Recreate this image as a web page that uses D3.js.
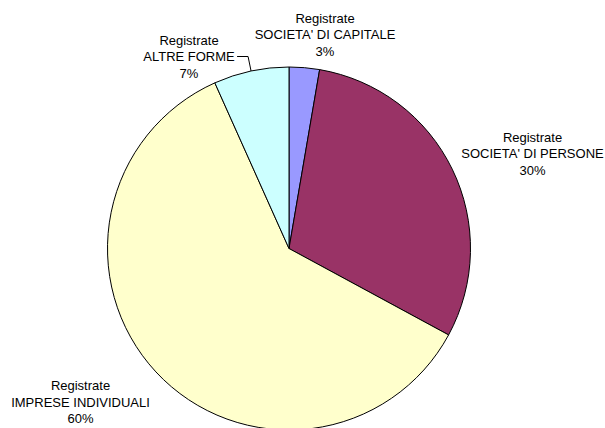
<!DOCTYPE html>
<html>
<head>
<meta charset="utf-8">
<script src="https://cdn.jsdelivr.net/npm/d3@7"></script>
<style>
  html, body { margin: 0; padding: 0; background: #fff; }
  svg { display: block; }
  text { font-family: "Liberation Sans", Arial, sans-serif; font-size: 13px; fill: #000; }
</style>
</head>
<body>
<svg id="chart" width="605" height="428"></svg>
<script>
// Imprese registrate per forma giuridica (quote percentuali)
const categories = [
  "SOCIETA' DI CAPITALE",
  "SOCIETA' DI PERSONE",
  "IMPRESE INDIVIDUALI",
  "ALTRE FORME"
];
const values = [2.7, 30.2, 60.4, 6.7];
const colors = ["#9999FF", "#993366", "#FFFFCC", "#CCFFFF"];
const prefix = "Registrate";

const width = 605, height = 428;
const cx = 289, cy = 248.5, radius = 181.5;

// label anchor points (text centre), relative to the pie centre
const labelPos = [
  { dx: 36,   dy: -214 },
  { dx: 243.5, dy: -95 },
  { dx: -208.5, dy: 153.5 },
  { dx: -100, dy: -192 }
];
const lineGap = 16.5;

const svg = d3.select("#chart");
const g = svg.append("g").attr("transform", `translate(${cx},${cy})`);

const total = d3.sum(values);
const pie = d3.pie().sort(null).value(d => d)
  .startAngle(0).endAngle(2 * Math.PI);
const arcs = pie(values);
const arc = d3.arc().innerRadius(0).outerRadius(radius);

g.selectAll("path.slice")
  .data(arcs)
  .join("path")
  .attr("class", "slice")
  .attr("d", arc)
  .attr("fill", (d, i) => colors[i])
  .attr("stroke", "#000")
  .attr("stroke-width", 1)
  .attr("stroke-linejoin", "round");

const fmt = v => Math.round(v / total * 100) + "%";

const labels = g.selectAll("g.label")
  .data(arcs)
  .join("g")
  .attr("class", "label")
  .attr("transform", (d, i) => `translate(${labelPos[i].dx},${labelPos[i].dy})`);

labels.each(function(d, i) {
  const lines = [prefix, categories[i], fmt(d.value)];
  d3.select(this).selectAll("text")
    .data(lines)
    .join("text")
    .attr("text-anchor", "middle")
    .attr("x", 0)
    .attr("y", (t, k) => (k - 1) * lineGap + 4.6)
    .text(t => t);
});

// leader line for the small "ALTRE FORME" slice
const altIdx = 3;
const altText = labels.filter((d, i) => i === altIdx).selectAll("text").filter((t, k) => k === 1).node();
const bb = altText.getBBox();
const lp = labelPos[altIdx];
const mid = (arcs[altIdx].startAngle + arcs[altIdx].endAngle) / 2;
const edge = [Math.sin(mid) * radius, -Math.cos(mid) * radius];
const startX = lp.dx + bb.x + bb.width + 2;
const startY = lp.dy;
g.append("path")
  .attr("d", d3.line()([[startX, startY], [edge[0] - 3, startY], edge]))
  .attr("fill", "none")
  .attr("stroke", "#000")
  .attr("stroke-width", 1);
</script>
</body>
</html>
